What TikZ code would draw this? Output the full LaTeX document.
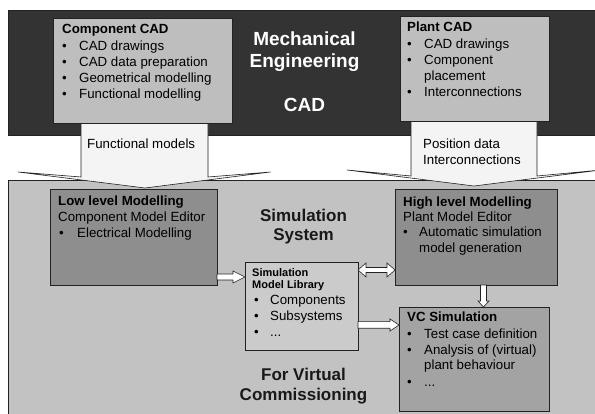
\documentclass[tikz,border=0pt]{standalone}
\usepackage{fontspec}
\setmainfont{Liberation Sans}
\usetikzlibrary{calc}
\definecolor{band}{HTML}{333333}
\definecolor{region}{HTML}{C2C2C2}
\definecolor{cadbox}{HTML}{BEBEBE}
\definecolor{modbox}{HTML}{8E8E8E}
\definecolor{libbox}{HTML}{CBCBCB}
\definecolor{vcbox}{HTML}{A3A3A3}
\definecolor{arrowfill}{HTML}{F4F4F4}
\definecolor{edge}{HTML}{222222}
\begin{document}
\begin{tikzpicture}[x=1pt,y=-1pt,
  box/.style={draw=edge,line width=0.7pt,inner sep=0pt,outer sep=0pt,anchor=north west},
  txt/.style={anchor=base west,inner sep=0pt,font=\fontsize{13.3}{16}\selectfont,text=black},
  hd/.style={txt,font=\fontsize{13.3}{16}\selectfont\bfseries},
  smallhd/.style={txt,font=\fontsize{11}{13}\selectfont\bfseries},
  titleW/.style={anchor=base,inner sep=0pt,font=\fontsize{19}{22}\selectfont\bfseries,text=white},
  titleB/.style={anchor=base,inner sep=0pt,font=\fontsize{17}{20}\selectfont\bfseries,text=black!90},
  bigarrow/.style={fill=arrowfill,draw=edge,line width=0.6pt,line join=miter},
  barrow/.style={fill=white,draw=edge,line width=0.6pt,line join=miter}]
\fill[white] (0,0) rectangle (595,414);
\clip (0,0) rectangle (595,414);
% backgrounds
\node[box,fill=band,minimum width=600pt,minimum height=125pt] (mech) at (8,10) {};
\node[box,fill=region,minimum width=600pt,minimum height=250pt] (sim) at (8,180) {};
% boxes
\node[box,fill=cadbox,minimum width=179pt,minimum height=105pt] (ccad) at (53,18) {};
\node[box,fill=cadbox,minimum width=149pt,minimum height=105pt] (pcad) at (400,16) {};
\node[box,fill=modbox,minimum width=167pt,minimum height=96pt] (low) at (50,189) {};
\node[box,fill=modbox,minimum width=162pt,minimum height=96pt] (high) at (395,189) {};
\node[box,fill=libbox,minimum width=113pt,minimum height=88pt] (lib) at (245,262) {};
\node[box,fill=vcbox,minimum width=150pt,minimum height=104pt] (vc) at (399,307) {};
% big arrows (drawn over the region, under the CAD boxes)
\coordinate (fa) at ([xshift=2pt]ccad.south);
\coordinate (pa) at ([xshift=-0.5pt]pcad.south);
\draw[bigarrow] ($(fa)+(-63.5,0)$) -- ($(fa)+(-63.5,54)$) -- ($(fa)+(-126.5,49)$) -- ($(fa)+(0.5,65)$)
  -- ($(fa)+(126,49)$) -- ($(fa)+(63.5,54)$) -- ($(fa)+(63.5,0)$) -- cycle;
\draw[bigarrow] ($(pa)+(-63,0)$) -- ($(pa)+(-63,55)$) -- ($(pa)+(-127,49)$) -- ($(pa)+(0,65)$)
  -- ($(pa)+(127,49)$) -- ($(pa)+(63,55)$) -- ($(pa)+(63,0)$) -- cycle;
% redraw CAD boxes on top of the arrow shafts
\node[box,fill=cadbox,minimum width=179pt,minimum height=105pt] at (53,18) {};
\node[box,fill=cadbox,minimum width=149pt,minimum height=105pt] at (400,16) {};
% small arrows
\coordinate (a1s) at ([yshift=-40pt]low.east);
\coordinate (a1t) at ([yshift=29pt]lib.west);
\draw[barrow] ($(a1s)+(0,-3)$) -- ($(a1t)+(-12,-3)$) -- ($(a1t)+(-12,-6)$) -- (a1t)
  -- ($(a1t)+(-12,6)$) -- ($(a1t)+(-12,3)$) -- ($(a1s)+(0,3)$) -- cycle;
\coordinate (a2s) at ([yshift=36pt]lib.east);
\coordinate (a2t) at ([yshift=-33pt]high.west);
\draw[barrow] (a2s) -- ($(a2s)+(8,-7)$) -- ($(a2s)+(8,-2.5)$) -- ($(a2t)+(-8,-2.5)$) -- ($(a2t)+(-8,-7)$)
  -- (a2t) -- ($(a2t)+(-8,7)$) -- ($(a2t)+(-8,2.5)$) -- ($(a2s)+(8,2.5)$) -- ($(a2s)+(8,7)$) -- cycle;
\coordinate (a3s) at ([yshift=-19pt]lib.east);
\coordinate (a3t) at ([yshift=34pt]vc.west);
\draw[barrow] ($(a3s)+(0,-3.3)$) -- ($(a3t)+(-9,-3.3)$) -- ($(a3t)+(-9,-6)$) -- (a3t)
  -- ($(a3t)+(-9,6)$) -- ($(a3t)+(-9,3.3)$) -- ($(a3s)+(0,3.3)$) -- cycle;
\coordinate (a4s) at ([xshift=7.5pt]high.south);
\coordinate (a4t) at ([xshift=9.5pt]vc.north);
\draw[barrow] ($(a4s)+(-3,0)$) -- ($(a4t)+(-3,-6)$) -- ($(a4t)+(-5.5,-6)$) -- (a4t)
  -- ($(a4t)+(5.5,-6)$) -- ($(a4t)+(3,-6)$) -- ($(a4s)+(3,0)$) -- cycle;
% titles
\node[titleW] (t1) at (304.5,45.7) {Mechanical};
\node[titleW] (t2) at (304.5,67.7) {Engineering};
\node[titleW] (t3) at (304.5,112) {CAD};
\node[titleB] (t4) at (303.5,221.7) {Simulation};
\node[titleB] (t5) at (303.5,241) {System};
\node[titleB] (t6) at (303.5,380.7) {For Virtual};
\node[titleB] (t7) at (303.5,400.5) {Commissioning};
% Component CAD
\node[hd] (c0) at (62,34) {Component CAD};
\node[txt] (cb1) at (62,51) {•}; \node[txt] (c1) at (79,51) {CAD drawings};
\node[txt] (cb2) at (62,67) {•}; \node[txt] (c2) at (79,67) {CAD data preparation};
\node[txt] (cb3) at (62,83) {•}; \node[txt] (c3) at (79,83) {Geometrical modelling};
\node[txt] (cb4) at (62,99) {•}; \node[txt] (c4) at (79,99) {Functional modelling};
% Plant CAD
\node[hd] (p0) at (407,32) {Plant CAD};
\node[txt] (pb1) at (407,49) {•}; \node[txt] (p1) at (424,49) {CAD drawings};
\node[txt] (pb2) at (407,65) {•}; \node[txt] (p2) at (424,65) {Component};
\node[txt] (p3) at (424,81) {placement};
\node[txt] (pb4) at (407,97) {•}; \node[txt] (p4) at (424,97) {Interconnections};
% arrow labels
\node[txt] (fl) at (87,149) {Functional models};
\node[txt] (pl1) at (423,149) {Position data};
\node[txt] (pl2) at (423,165) {Interconnections};
% Low level
\node[hd] (l0) at (58,206) {Low level Modelling};
\node[txt] (l1) at (58,222) {Component Model Editor};
\node[txt] (lb2) at (59,238) {•}; \node[txt] (l2) at (77,238) {Electrical Modelling};
% High level
\node[hd] (h0) at (403,207) {High level Modelling};
\node[txt] (h1) at (403,222) {Plant Model Editor};
\node[txt] (hb2) at (403,237) {•}; \node[txt] (h2) at (419,237) {Automatic simulation};
\node[txt] (h3) at (419,253) {model generation};
% Library
\node[smallhd] (m0) at (252,277) {Simulation};
\node[smallhd] (m1) at (252,289) {Model Library};
\node[txt] (mb2) at (254,305) {•}; \node[txt] (m2) at (270,305) {Components};
\node[txt] (mb3) at (254,321) {•}; \node[txt] (m3) at (270,321) {Subsystems};
\node[txt] (mb4) at (254,337) {•}; \node[txt] (m4) at (270,337) {...};
% VC
\node[hd] (v0) at (407,322) {VC Simulation};
\node[txt] (vb1) at (407,338) {•}; \node[txt] (v1) at (424,338) {Test case definition};
\node[txt] (vb2) at (407,355) {•}; \node[txt] (v2) at (424,355) {Analysis of (virtual)};
\node[txt] (v3) at (424,370) {plant behaviour};
\node[txt] (vb4) at (407,387) {•}; \node[txt] (v4) at (424,387) {...};
\end{tikzpicture}
\end{document}
